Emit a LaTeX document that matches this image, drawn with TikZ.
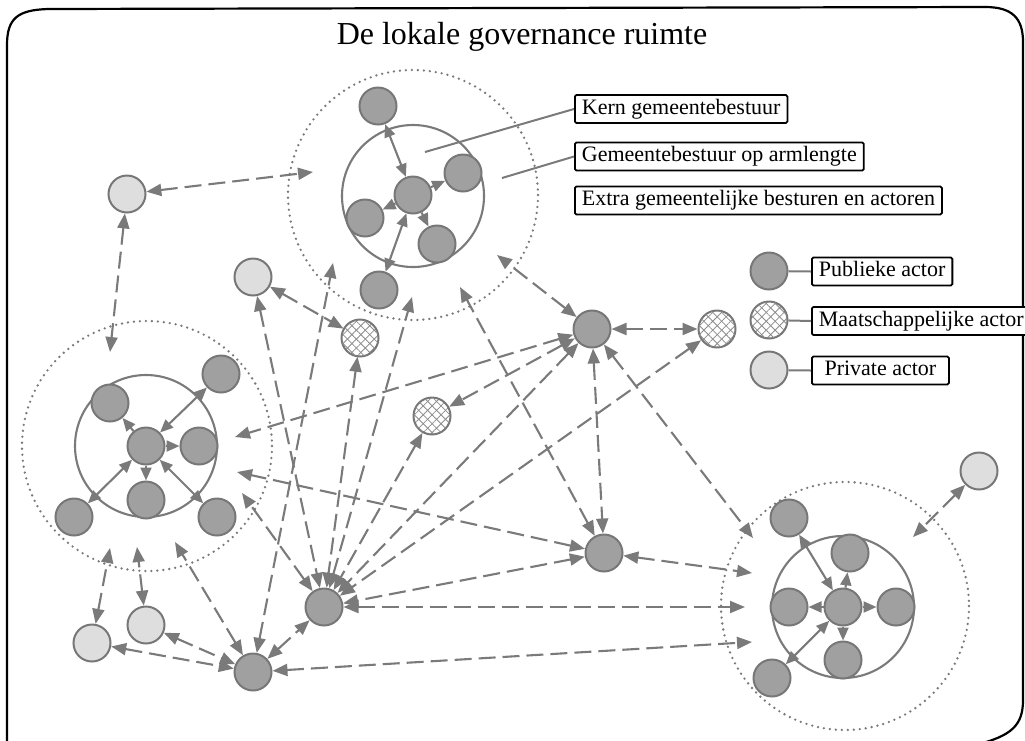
\documentclass[tikz,border=0pt]{standalone}
\usepackage{fontspec}
\setmainfont{Liberation Serif}
\usetikzlibrary{arrows.meta,patterns.meta}
\definecolor{linegray}{HTML}{7A7A7A}
\definecolor{pubfill}{HTML}{A0A0A0}
\definecolor{privfill}{HTML}{DEDEDE}
\definecolor{edgegray}{HTML}{777777}
\definecolor{hatchgray}{HTML}{8C8C8C}
\begin{document}
\begin{tikzpicture}[x=1pt,y=-1pt,
  actor/.style={circle, minimum size=37pt, inner sep=0pt, draw=edgegray, line width=2pt},
  pub/.style={actor, fill=pubfill},
  priv/.style={actor, fill=privfill},
  soc/.style={actor, preaction={fill=white},
    pattern={Lines[angle=45,distance=6.3pt,line width=0.8pt]}, pattern color=hatchgray,
    postaction={pattern={Lines[angle=-45,distance=6.3pt,line width=0.8pt]}, pattern color=hatchgray}},
  link/.style={linegray, line width=2.1pt, dash pattern=on 17pt off 7pt,
    {Triangle[length=15pt,width=12pt]}-{Triangle[length=15pt,width=12pt]}},
  inner/.style={linegray, line width=2.1pt, -{Triangle[length=13pt,width=11pt]}},
  innerboth/.style={inner, {Triangle[length=13pt,width=11pt]}-{Triangle[length=13pt,width=11pt]}},
  zone/.style={linegray, line width=2.6pt, dash pattern=on 0pt off 6pt, line cap=round},
  core/.style={linegray, line width=2.1pt},
  tag/.style={draw=black, line width=1.8pt, fill=white, rounded corners=1.5pt,
    font=\fontsize{22}{24}\selectfont, text height=15pt, text depth=5pt,
    inner xsep=7pt, inner ysep=4pt, anchor=west},
  pointer/.style={linegray, line width=2pt}
]
\useasboundingbox (0,0) rectangle (1025,740);
\clip (0,0) rectangle (1025,740);

% outer frame
\draw[black, line width=2.2pt] (7,760) -- (7,45) .. controls (7,18) and (18,10) .. (48,9)
  -- (985,7) .. controls (1012,7) and (1023,18) .. (1023,42)
  -- (1023,700) .. controls (1023,725) and (1012,736) .. (975,745);

% title
\node[font=\fontsize{32}{36}\selectfont, anchor=base] (title) at (522,44) {De lokale governance ruimte};

% governance zones: dotted outer ring, solid core
\draw[zone] (413,195) circle[radius=125];
\draw[core] (413,196) circle[radius=71];
\draw[zone] (147,446) circle[radius=125];
\draw[core] (146,446) circle[radius=71];
\draw[zone] (845,606) circle[radius=124];
\draw[core] (843,607) circle[radius=71];

% top cluster
\node[pub] (T0) at (413,195) {};
\node[pub] (Tn) at (378,106) {};
\node[pub] (Te) at (463,173) {};
\node[pub] (Tw) at (365,218) {};
\node[pub] (Tse) at (437,244) {};
\node[pub] (Ts) at (379,290) {};

% left cluster
\node[pub] (L0) at (146,446) {};
\node[pub] (Lnw) at (110,403) {};
\node[pub] (Le) at (199,446) {};
\node[pub] (Ls) at (146,500) {};
\node[pub] (Lne) at (221,374) {};
\node[pub] (Lsw) at (74,517) {};
\node[pub] (Lse) at (217,517) {};

% right cluster
\node[pub] (R0) at (843,607) {};
\node[pub] (Rnw) at (789,518) {};
\node[pub] (Rn) at (850,553) {};
\node[pub] (Rw) at (789,607) {};
\node[pub] (Re) at (896,607) {};
\node[pub] (Rs) at (843,660) {};
\node[pub] (Rsw) at (772,678) {};

% free actors
\node[priv] (P1) at (127,194) {};
\node[priv] (P2) at (253,277) {};
\node[priv] (P3) at (92,643) {};
\node[priv] (P4) at (146,625) {};
\node[priv] (P5) at (979,471) {};
\node[soc] (M1) at (360,338) {};
\node[soc] (M2) at (432,416) {};
\node[soc] (M3) at (717,329) {};
\node[pub] (A) at (592,329) {};
\node[pub] (B) at (604,553) {};
\node[pub] (C) at (324,607) {};
\node[pub] (D) at (253,672) {};

% arrow ends inside the zones
\coordinate (t1) at (313,172);
\coordinate (t2) at (333,263);
\coordinate (t3) at (412,297);
\coordinate (t4) at (460,287);
\coordinate (t5) at (497,255);
\coordinate (l1) at (110,352);
\coordinate (l2) at (235,437);
\coordinate (l3) at (237,472);
\coordinate (l4) at (242,493);
\coordinate (l5) at (110,548);
\coordinate (l6) at (137,547);
\coordinate (l7) at (175,542);
\coordinate (r1) at (753,538);
\coordinate (r2) at (752,573);
\coordinate (r3) at (745,607);
\coordinate (r4) at (752,642);
\coordinate (r5) at (913,537);

% relations inside the zones
\draw[innerboth] (Tn) -- (T0);
\draw[inner] (T0) -- (Te);
\draw[inner] (T0) -- (Tw);
\draw[inner] (T0) -- (Tse);
\draw[innerboth] (Ts) -- (T0);

\draw[inner] (L0) -- (Lnw);
\draw[inner] (L0) -- (Le);
\draw[inner] (L0) -- (Ls);
\draw[innerboth] (Lne) -- (L0);
\draw[innerboth] (Lsw) -- (L0);
\draw[innerboth] (Lse) -- (L0);

\draw[innerboth] (Rnw) -- (R0);
\draw[inner] (R0) -- (Rn);
\draw[inner] (R0) -- (Rw);
\draw[inner] (R0) -- (Re);
\draw[inner] (R0) -- (Rs);
\draw[innerboth] (Rsw) -- (R0);

% relations between actors and zones
\draw[link] (P1) -- (t1);
\draw[link] (P1) -- (l1);
\draw[link] (P2) -- (M1);
\draw[link] (P2) -- (C);
\draw[link] (D) -- (t2);
\draw[link] (M1) -- (C);
\draw[link] (C) -- (t3);
\draw[link] (M2) -- (C);
\draw[link] (A) -- (C);
\draw[link] (M3) -- (C);
\draw[link] (B) -- (C);
\draw[link] (C) -- (r3);
\draw[link] (A) -- (l2);
\draw[link] (A) -- (M2);
\draw[link] (A) -- (t5);
\draw[link] (B) -- (t4);
\draw[link] (A) -- (B);
\draw[link] (A) -- (M3);
\draw[link] (A) -- (r1);
\draw[link] (B) -- (l3);
\draw[link] (B) -- (r2);
\draw[link] (C) -- (l4);
\draw[link] (D) -- (C);
\draw[link] (D) -- (l7);
\draw[link] (D) -- (r4);
\draw[link] (P3) -- (l5);
\draw[link] (P4) -- (l6);
\draw[link] (P3) -- (D);
\draw[link] (P4) -- (D);
\draw[link] (P5) -- (r5);

% zone labels
\node[tag] (kern) at (574,109) {Kern gemeentebestuur};
\node[tag] (arm) at (574,156.5) {Gemeentebestuur op armlengte};
\node[tag] (extra) at (574,200.5) {Extra gemeentelijke besturen en actoren};
\coordinate (kp) at (425,152);
\coordinate (ap) at (502,178);
\draw[pointer] (kp) -- (kern.west);
\draw[pointer] (ap) -- (arm.west);

% legend
\node[pub] (kpub) at (769,271) {};
\node[soc] (ksoc) at (769,320) {};
\node[priv] (kpriv) at (769,370) {};
\node[tag, minimum width=138pt] (lpub) at (811,271.5) {Publieke actor};
\node[tag, minimum width=212pt] (lsoc) at (811,321) {Maatschappelijke actor};
\node[tag, minimum width=137pt] (lpriv) at (811,370.5) {Private actor};
\draw[pointer] (kpub) -- (lpub.west);
\draw[pointer] (ksoc) -- (lsoc.west);
\draw[pointer] (kpriv) -- (lpriv.west);
\end{tikzpicture}
\end{document}
